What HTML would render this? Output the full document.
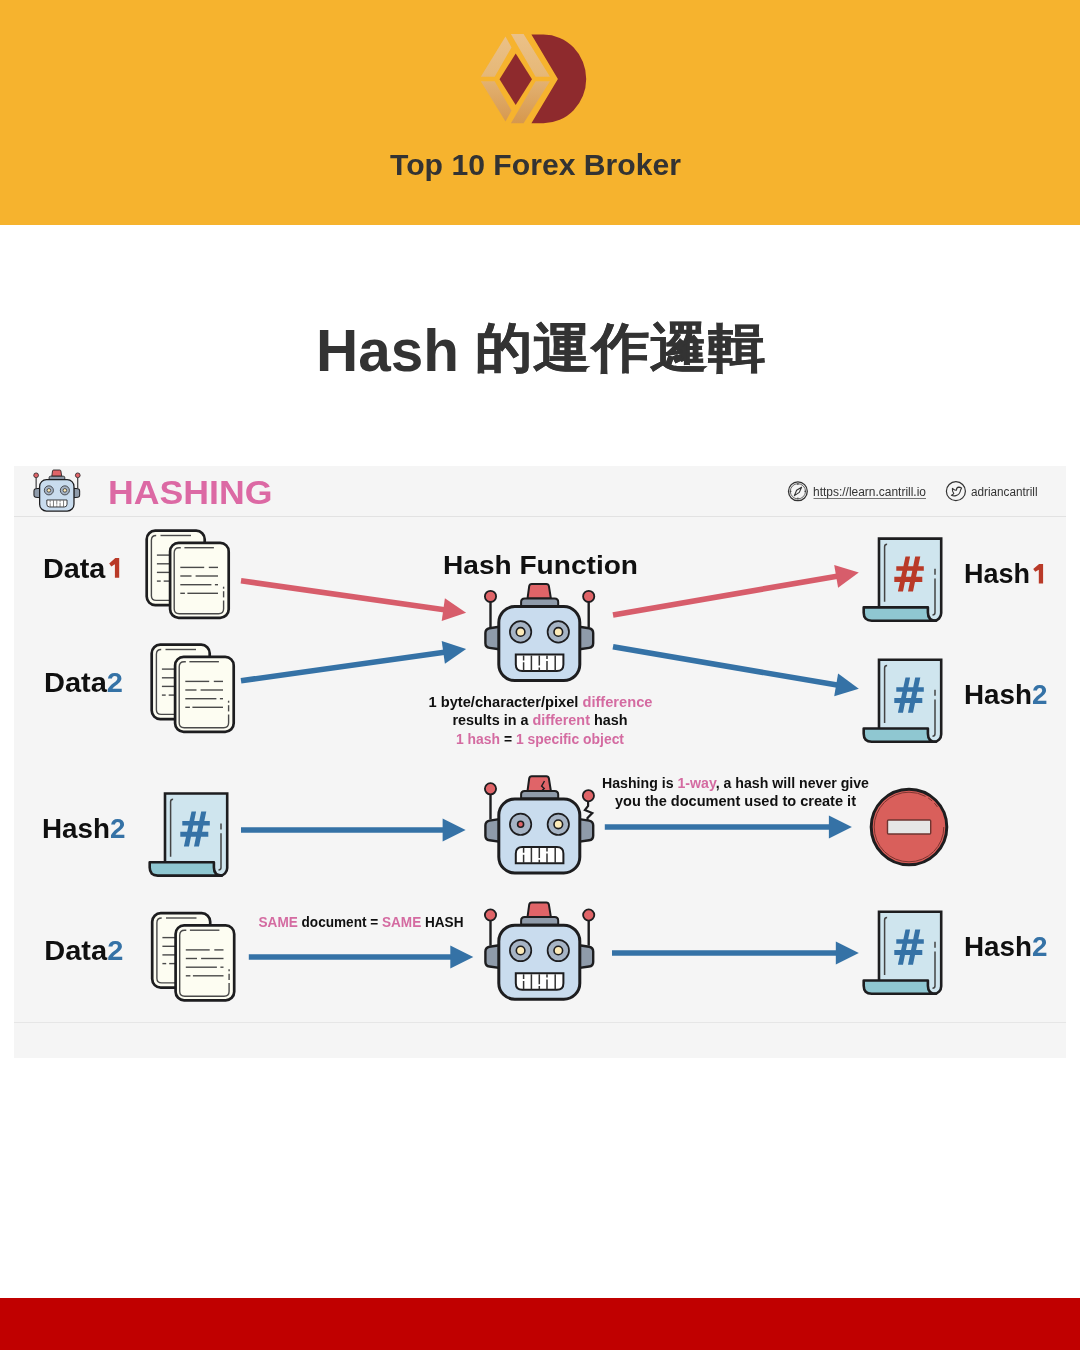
<!DOCTYPE html>
<html><head><meta charset="utf-8">
<style>
html,body{margin:0;padding:0;}
body{width:1080px;height:1350px;position:relative;overflow:hidden;background:#fff;font-family:"Liberation Sans",sans-serif;}
.hdr{position:absolute;left:0;top:0;width:1080px;height:225px;background:#F6B32E;}
.foot{position:absolute;left:0;top:1298px;width:1080px;height:52px;background:#C00000;}
.panel{position:absolute;left:14px;top:466px;width:1052px;height:592px;background:#F5F5F5;}
.sep1{position:absolute;left:14px;top:516px;width:1052px;height:1px;background:#E2E2E2;}
.sep2{position:absolute;left:14px;top:1022px;width:1052px;height:1px;background:#E6E6E6;}
svg{position:absolute;left:0;top:0;will-change:transform;}
svg text{font-family:"Liberation Sans",sans-serif;}
</style></head><body>
<div class="hdr"></div><div class="panel"></div><div class="sep1"></div><div class="sep2"></div><div class="foot"></div>
<svg width="1080" height="1350" viewBox="0 0 1080 1350">
<g>
<defs><linearGradient id="lg" gradientUnits="userSpaceOnUse" x1="0" y1="34" x2="0" y2="123"><stop offset="0" stop-color="#EBC188"/><stop offset="0.45" stop-color="#E6B878"/><stop offset="0.55" stop-color="#E2B070"/><stop offset="1" stop-color="#D6984E"/></linearGradient></defs>
<path d="M531.4,34.6 H543.4 A42.8,44.3 0 0 1 543.4,123.2 H531.4 L557.9,78.9 Z" fill="#8E2A2D"/>
<polygon points="515.7,53.6 532,79.2 515.7,105 499.5,79.2" fill="#8E2A2D"/>
<polygon points="505.5,36.5 511.5,47.5 494.7,76.8 480.8,76.8" fill="url(#lg)"/>
<polygon points="510.9,34 523.6,34 550,76.8 535.6,76.8" fill="url(#lg)"/>
<polygon points="480.8,81.3 494.7,81.3 511.5,110.5 505.5,121.5" fill="url(#lg)"/>
<polygon points="535.6,81.3 550,81.3 523.6,123.2 510.9,123.2" fill="url(#lg)"/>
</g>
<text x="390" y="175" font-size="30" font-weight="bold" fill="#333333" text-anchor="start" textLength="291" lengthAdjust="spacingAndGlyphs" >Top 10 Forex Broker</text>
<text x="316" y="370.8" font-size="60" font-weight="bold" fill="#333333" text-anchor="start" textLength="143" lengthAdjust="spacingAndGlyphs" >Hash</text>
<text transform="translate(475.2,365.9) scale(0.986,0.91)" x="0" y="0" font-size="58.5" font-weight="bold" fill="#333333" stroke="#333333" stroke-width="0.5">的運作邏輯</text>
<g transform="translate(39,479) scale(0.424)">
<line x1="-6.8" y1="-3" x2="-6.8" y2="22" stroke="#1d1d1f" stroke-width="2.4"/>
<line x1="91.4" y1="-3" x2="91.4" y2="22" stroke="#1d1d1f" stroke-width="2.4"/>
<circle cx="-6.8" cy="-8.7" r="5.6" fill="#E06468" stroke="#1d1d1f" stroke-width="1.8"/>
<circle cx="91.4" cy="-8.7" r="5.6" fill="#E06468" stroke="#1d1d1f" stroke-width="1.8"/>
<path d="M2,21.6 L-7.8,23.1 Q-11.9,23.8 -11.9,27.8 V38.2 Q-11.9,42.2 -7.8,42.8 L2,44.2 Z" fill="#8F9BAA" stroke="#1d1d1f" stroke-width="2.4"/>
<path d="M82,21.6 L91.8,23.1 Q95.9,23.8 95.9,27.8 V38.2 Q95.9,42.2 91.8,42.8 L82,44.2 Z" fill="#8F9BAA" stroke="#1d1d1f" stroke-width="2.4"/>
<path d="M30.2,-6.5 L31.9,-19 Q32.3,-21.2 34.5,-21.2 H49 Q51.2,-21.2 51.6,-19 L53.6,-6.5 Z" fill="#E06468" stroke="#1d1d1f" stroke-width="2"/>
<path d="M23.8,1 V-3 Q23.8,-6.6 27.4,-6.6 H57.3 Q60.9,-6.6 60.9,-3 V1 Z" fill="#8F9BAA" stroke="#1d1d1f" stroke-width="2"/>
<rect x="1.5" y="1.5" width="81" height="74" rx="16" fill="#C9DCEE" stroke="#1d1d1f" stroke-width="3"/>
<circle cx="23.3" cy="26.8" r="10.7" fill="#A6B4C5" stroke="#1d1d1f" stroke-width="1.7"/>
<circle cx="61.0" cy="26.8" r="10.7" fill="#A6B4C5" stroke="#1d1d1f" stroke-width="1.7"/>
<circle cx="23.3" cy="26.8" r="4.3" fill="#FCEAB8" stroke="#1d1d1f" stroke-width="1.6"/>
<circle cx="61.0" cy="26.8" r="4.3" fill="#FCEAB8" stroke="#1d1d1f" stroke-width="1.6"/>
<path d="M18.5,49.5 H66.1 V59.5 Q66.1,66 59.6,66 H25 Q18.5,66 18.5,59.5 Z" fill="#fff" stroke="#1d1d1f" stroke-width="2"/>
<path d="M26.3,50.5 V55.3 M26.3,57.2 V65.5 M34.1,50.5 V65.5 M42,50.5 V60.5 M42,62.3 V65.5 M49.7,50.5 V53.9 M49.7,55.9 V65.5 M57.9,50.5 V65.5" stroke="#333" stroke-width="1.5"/>
</g>
<text x="108" y="504.3" font-size="34" font-weight="bold" fill="#DC69A4" text-anchor="start" textLength="164.5" lengthAdjust="spacingAndGlyphs" >HASHING</text>
<circle cx="797.9" cy="491.3" r="9.4" fill="none" stroke="#333" stroke-width="1.3"/><circle cx="797.9" cy="491.3" r="7.6" fill="none" stroke="#444" stroke-width="0.8"/><path d="M797.9,483.2 V485 M797.9,497.6 V499.4 M789.8,491.3 H791.4 M804.4,491.3 H806" stroke="#333" stroke-width="1"/><path d="M801.6,487.2 L799.3,492.4 L794.4,495.6 L796.6,490.3 Z" fill="none" stroke="#333" stroke-width="1.1" stroke-linejoin="round"/>
<text x="813" y="496.3" font-size="12" font-weight="normal" fill="#333" text-anchor="start" textLength="113" lengthAdjust="spacingAndGlyphs" >https://learn.cantrill.io</text>
<line x1="813.5" y1="498.5" x2="926" y2="498.5" stroke="#666" stroke-width="0.9"/>
<circle cx="955.9" cy="491.2" r="9.5" fill="none" stroke="#333" stroke-width="1.2"/><path d="M952.4,488.4 Q954.6,490.6 956.4,490.2 Q956.4,487.1 958.8,487.1 Q960,487.2 961.6,488.1 L960.5,490.2 Q960,494.6 955.9,495.6 Q953.4,496.2 951.4,495.2 Q953.3,494.6 953.8,493.6 Q952,491.5 952.4,488.4 Z" fill="none" stroke="#333" stroke-width="1.1" stroke-linejoin="round"/>
<text x="971" y="496.3" font-size="12" font-weight="normal" fill="#333" text-anchor="start" textLength="66.5" lengthAdjust="spacingAndGlyphs" >adriancantrill</text>
<text x="42.9" y="577.8" font-size="27" font-weight="bold" fill="#101010" text-anchor="start" textLength="62.5" lengthAdjust="spacingAndGlyphs" >Data</text>
<polygon points="115.3,558.1 119.2,558.1 119.2,577.8 114.9,577.8 114.9,564.3 111.3,566.6 109.2,563.4" fill="#B93A28"/>
<text x="44" y="691.6" font-size="27" font-weight="bold" fill="#101010" text-anchor="start" textLength="79" lengthAdjust="spacingAndGlyphs" >Data<tspan fill="#3572A6">2</tspan></text>
<text x="42" y="837.8" font-size="27" font-weight="bold" fill="#101010" text-anchor="start" textLength="83.5" lengthAdjust="spacingAndGlyphs" >Hash<tspan fill="#3572A6">2</tspan></text>
<text x="44.3" y="960.3" font-size="27" font-weight="bold" fill="#101010" text-anchor="start" textLength="79" lengthAdjust="spacingAndGlyphs" >Data<tspan fill="#3572A6">2</tspan></text>
<text x="964" y="583.4" font-size="27" font-weight="bold" fill="#101010" text-anchor="start" textLength="66" lengthAdjust="spacingAndGlyphs" >Hash</text>
<polygon points="1039.1,564 1043.1,564 1043.1,583.4 1038.8,583.4 1038.8,569.7 1035.3,571.8 1033.2,568.9" fill="#B93A28"/>
<text x="964" y="704.1" font-size="27" font-weight="bold" fill="#101010" text-anchor="start" textLength="83.5" lengthAdjust="spacingAndGlyphs" >Hash<tspan fill="#3572A6">2</tspan></text>
<text x="964" y="956.1" font-size="27" font-weight="bold" fill="#101010" text-anchor="start" textLength="83.5" lengthAdjust="spacingAndGlyphs" >Hash<tspan fill="#3572A6">2</tspan></text>
<text x="443" y="573.6" font-size="26" font-weight="bold" fill="#101010" text-anchor="start" textLength="195" lengthAdjust="spacingAndGlyphs" >Hash Function</text>
<text x="428.5" y="707.3" font-size="14" font-weight="bold" fill="#101010" text-anchor="start" textLength="224" lengthAdjust="spacingAndGlyphs" >1 byte/character/pixel <tspan fill="#D46BA1">difference</tspan></text>
<text x="452.5" y="725.1" font-size="14" font-weight="bold" fill="#101010" text-anchor="start" textLength="175" lengthAdjust="spacingAndGlyphs" >results in a <tspan fill="#D46BA1">different</tspan> hash</text>
<text x="456" y="743.8" font-size="14" font-weight="bold" fill="#101010" text-anchor="start" textLength="168" lengthAdjust="spacingAndGlyphs" ><tspan fill="#D46BA1">1 hash</tspan> = <tspan fill="#D46BA1">1 specific object</tspan></text>
<text x="602" y="788.1" font-size="14" font-weight="bold" fill="#101010" text-anchor="start" textLength="267" lengthAdjust="spacingAndGlyphs" >Hashing is <tspan fill="#D46BA1">1-way</tspan>, a hash will never give</text>
<text x="615" y="806.3" font-size="14" font-weight="bold" fill="#101010" text-anchor="start" textLength="241" lengthAdjust="spacingAndGlyphs" >you the document used to create it</text>
<text x="258.5" y="927.4" font-size="14" font-weight="bold" fill="#101010" text-anchor="start" textLength="205" lengthAdjust="spacingAndGlyphs" ><tspan fill="#D46BA1">SAME</tspan> document = <tspan fill="#D46BA1">SAME</tspan> HASH</text>
<g transform="translate(145.2,529.2)">
<rect x="1.5" y="1.5" width="58" height="74.4" rx="8.5" fill="#FDFDF2" stroke="#1d1d1f" stroke-width="2.7"/>
<path d="M11,6.3 Q6.2,6.3 6.2,11 V66.5 Q6.2,71.2 11,71.2 H25" fill="none" stroke="#4a4a4a" stroke-width="1.4"/>
<line x1="15.3" y1="6.3" x2="45.8" y2="6.3" stroke="#4a4a4a" stroke-width="1.4"/>
<line x1="11.7" y1="25.9" x2="25" y2="25.9" stroke="#4a4a4a" stroke-width="1.4"/>
<line x1="11.7" y1="34.6" x2="25" y2="34.6" stroke="#4a4a4a" stroke-width="1.4"/>
<line x1="11.7" y1="43.2" x2="25" y2="43.2" stroke="#4a4a4a" stroke-width="1.4"/>
<line x1="11.7" y1="51.9" x2="15.5" y2="51.9" stroke="#4a4a4a" stroke-width="1.4"/>
<line x1="18.5" y1="51.9" x2="25" y2="51.9" stroke="#4a4a4a" stroke-width="1.4"/>
<rect x="24.9" y="13.7" width="58.6" height="74.9" rx="8.5" fill="#FDFDF2" stroke="#1d1d1f" stroke-width="2.7"/>
<path d="M35.6,18.5 H34 Q29,18.5 29,23.5 V79.5 Q29,84.5 34,84.5 H73.4 Q78.4,84.5 78.4,79.5 V71.2" fill="none" stroke="#4a4a4a" stroke-width="1.4"/>
<line x1="78.4" y1="57.5" x2="78.4" y2="59.5" stroke="#4a4a4a" stroke-width="1.4"/>
<line x1="78.4" y1="62" x2="78.4" y2="68.2" stroke="#4a4a4a" stroke-width="1.4"/>
<line x1="39.2" y1="18.5" x2="68.7" y2="18.5" stroke="#4a4a4a" stroke-width="1.4"/>
<line x1="35.1" y1="38.2" x2="59" y2="38.2" stroke="#4a4a4a" stroke-width="1.4"/>
<line x1="63.6" y1="38.2" x2="72.8" y2="38.2" stroke="#4a4a4a" stroke-width="1.4"/>
<line x1="35.1" y1="46.8" x2="46.3" y2="46.8" stroke="#4a4a4a" stroke-width="1.4"/>
<line x1="50.4" y1="46.8" x2="72.8" y2="46.8" stroke="#4a4a4a" stroke-width="1.4"/>
<line x1="35.1" y1="55.5" x2="66.2" y2="55.5" stroke="#4a4a4a" stroke-width="1.4"/>
<line x1="69.7" y1="55.5" x2="72.8" y2="55.5" stroke="#4a4a4a" stroke-width="1.4"/>
<line x1="35.1" y1="64.1" x2="39.7" y2="64.1" stroke="#4a4a4a" stroke-width="1.4"/>
<line x1="42.2" y1="64.1" x2="72.8" y2="64.1" stroke="#4a4a4a" stroke-width="1.4"/>
</g>
<g transform="translate(150.2,643.2)">
<rect x="1.5" y="1.5" width="58" height="74.4" rx="8.5" fill="#FDFDF2" stroke="#1d1d1f" stroke-width="2.7"/>
<path d="M11,6.3 Q6.2,6.3 6.2,11 V66.5 Q6.2,71.2 11,71.2 H25" fill="none" stroke="#4a4a4a" stroke-width="1.4"/>
<line x1="15.3" y1="6.3" x2="45.8" y2="6.3" stroke="#4a4a4a" stroke-width="1.4"/>
<line x1="11.7" y1="25.9" x2="25" y2="25.9" stroke="#4a4a4a" stroke-width="1.4"/>
<line x1="11.7" y1="34.6" x2="25" y2="34.6" stroke="#4a4a4a" stroke-width="1.4"/>
<line x1="11.7" y1="43.2" x2="25" y2="43.2" stroke="#4a4a4a" stroke-width="1.4"/>
<line x1="11.7" y1="51.9" x2="15.5" y2="51.9" stroke="#4a4a4a" stroke-width="1.4"/>
<line x1="18.5" y1="51.9" x2="25" y2="51.9" stroke="#4a4a4a" stroke-width="1.4"/>
<rect x="24.9" y="13.7" width="58.6" height="74.9" rx="8.5" fill="#FDFDF2" stroke="#1d1d1f" stroke-width="2.7"/>
<path d="M35.6,18.5 H34 Q29,18.5 29,23.5 V79.5 Q29,84.5 34,84.5 H73.4 Q78.4,84.5 78.4,79.5 V71.2" fill="none" stroke="#4a4a4a" stroke-width="1.4"/>
<line x1="78.4" y1="57.5" x2="78.4" y2="59.5" stroke="#4a4a4a" stroke-width="1.4"/>
<line x1="78.4" y1="62" x2="78.4" y2="68.2" stroke="#4a4a4a" stroke-width="1.4"/>
<line x1="39.2" y1="18.5" x2="68.7" y2="18.5" stroke="#4a4a4a" stroke-width="1.4"/>
<line x1="35.1" y1="38.2" x2="59" y2="38.2" stroke="#4a4a4a" stroke-width="1.4"/>
<line x1="63.6" y1="38.2" x2="72.8" y2="38.2" stroke="#4a4a4a" stroke-width="1.4"/>
<line x1="35.1" y1="46.8" x2="46.3" y2="46.8" stroke="#4a4a4a" stroke-width="1.4"/>
<line x1="50.4" y1="46.8" x2="72.8" y2="46.8" stroke="#4a4a4a" stroke-width="1.4"/>
<line x1="35.1" y1="55.5" x2="66.2" y2="55.5" stroke="#4a4a4a" stroke-width="1.4"/>
<line x1="69.7" y1="55.5" x2="72.8" y2="55.5" stroke="#4a4a4a" stroke-width="1.4"/>
<line x1="35.1" y1="64.1" x2="39.7" y2="64.1" stroke="#4a4a4a" stroke-width="1.4"/>
<line x1="42.2" y1="64.1" x2="72.8" y2="64.1" stroke="#4a4a4a" stroke-width="1.4"/>
</g>
<g transform="translate(150.7,911.7)">
<rect x="1.5" y="1.5" width="58" height="74.4" rx="8.5" fill="#FDFDF2" stroke="#1d1d1f" stroke-width="2.7"/>
<path d="M11,6.3 Q6.2,6.3 6.2,11 V66.5 Q6.2,71.2 11,71.2 H25" fill="none" stroke="#4a4a4a" stroke-width="1.4"/>
<line x1="15.3" y1="6.3" x2="45.8" y2="6.3" stroke="#4a4a4a" stroke-width="1.4"/>
<line x1="11.7" y1="25.9" x2="25" y2="25.9" stroke="#4a4a4a" stroke-width="1.4"/>
<line x1="11.7" y1="34.6" x2="25" y2="34.6" stroke="#4a4a4a" stroke-width="1.4"/>
<line x1="11.7" y1="43.2" x2="25" y2="43.2" stroke="#4a4a4a" stroke-width="1.4"/>
<line x1="11.7" y1="51.9" x2="15.5" y2="51.9" stroke="#4a4a4a" stroke-width="1.4"/>
<line x1="18.5" y1="51.9" x2="25" y2="51.9" stroke="#4a4a4a" stroke-width="1.4"/>
<rect x="24.9" y="13.7" width="58.6" height="74.9" rx="8.5" fill="#FDFDF2" stroke="#1d1d1f" stroke-width="2.7"/>
<path d="M35.6,18.5 H34 Q29,18.5 29,23.5 V79.5 Q29,84.5 34,84.5 H73.4 Q78.4,84.5 78.4,79.5 V71.2" fill="none" stroke="#4a4a4a" stroke-width="1.4"/>
<line x1="78.4" y1="57.5" x2="78.4" y2="59.5" stroke="#4a4a4a" stroke-width="1.4"/>
<line x1="78.4" y1="62" x2="78.4" y2="68.2" stroke="#4a4a4a" stroke-width="1.4"/>
<line x1="39.2" y1="18.5" x2="68.7" y2="18.5" stroke="#4a4a4a" stroke-width="1.4"/>
<line x1="35.1" y1="38.2" x2="59" y2="38.2" stroke="#4a4a4a" stroke-width="1.4"/>
<line x1="63.6" y1="38.2" x2="72.8" y2="38.2" stroke="#4a4a4a" stroke-width="1.4"/>
<line x1="35.1" y1="46.8" x2="46.3" y2="46.8" stroke="#4a4a4a" stroke-width="1.4"/>
<line x1="50.4" y1="46.8" x2="72.8" y2="46.8" stroke="#4a4a4a" stroke-width="1.4"/>
<line x1="35.1" y1="55.5" x2="66.2" y2="55.5" stroke="#4a4a4a" stroke-width="1.4"/>
<line x1="69.7" y1="55.5" x2="72.8" y2="55.5" stroke="#4a4a4a" stroke-width="1.4"/>
<line x1="35.1" y1="64.1" x2="39.7" y2="64.1" stroke="#4a4a4a" stroke-width="1.4"/>
<line x1="42.2" y1="64.1" x2="72.8" y2="64.1" stroke="#4a4a4a" stroke-width="1.4"/>
</g>
<g transform="translate(877.5,537.1)">
<path d="M1.5,1.5 H63.7 V76 A7.5,7.5 0 0 1 56.2,83.6 H1.5 Z" fill="#CFE5EE" stroke="#1d1d1f" stroke-width="2.6"/>
<path d="M9.6,7.2 Q7.1,7.2 7.1,9.7 V64.7" fill="none" stroke="#444" stroke-width="1.5"/>
<path d="M57.5,31.6 V37.6 M57.5,41.3 V75.5 Q57.5,78 55,78" fill="none" stroke="#444" stroke-width="1.5"/>
<path d="M-13.8,70.3 H50.4 V75.5 Q50.4,83.6 58.5,83.6 H-5.8 Q-13.8,83.6 -13.8,75.6 Z" fill="#8FC7D1" stroke="#1d1d1f" stroke-width="2.6" stroke-linejoin="round"/>
<path d="M28,19.4 H32.6 L25.5,54.5 H20.4 Z M37.7,19.4 H42.8 L35.5,54.5 H30.5 Z M18.8,29.1 H46.3 V33.6 H18.8 Z M16.8,39.7 H44.8 V44.8 H16.8 Z" fill="#B93A28"/>
</g>
<g transform="translate(877.5,658.2)">
<path d="M1.5,1.5 H63.7 V76 A7.5,7.5 0 0 1 56.2,83.6 H1.5 Z" fill="#CFE5EE" stroke="#1d1d1f" stroke-width="2.6"/>
<path d="M9.6,7.2 Q7.1,7.2 7.1,9.7 V64.7" fill="none" stroke="#444" stroke-width="1.5"/>
<path d="M57.5,31.6 V37.6 M57.5,41.3 V75.5 Q57.5,78 55,78" fill="none" stroke="#444" stroke-width="1.5"/>
<path d="M-13.8,70.3 H50.4 V75.5 Q50.4,83.6 58.5,83.6 H-5.8 Q-13.8,83.6 -13.8,75.6 Z" fill="#8FC7D1" stroke="#1d1d1f" stroke-width="2.6" stroke-linejoin="round"/>
<path d="M28,19.4 H32.6 L25.5,54.5 H20.4 Z M37.7,19.4 H42.8 L35.5,54.5 H30.5 Z M18.8,29.1 H46.3 V33.6 H18.8 Z M16.8,39.7 H44.8 V44.8 H16.8 Z" fill="#3572A6"/>
</g>
<g transform="translate(163.5,792)">
<path d="M1.5,1.5 H63.7 V76 A7.5,7.5 0 0 1 56.2,83.6 H1.5 Z" fill="#CFE5EE" stroke="#1d1d1f" stroke-width="2.6"/>
<path d="M9.6,7.2 Q7.1,7.2 7.1,9.7 V64.7" fill="none" stroke="#444" stroke-width="1.5"/>
<path d="M57.5,31.6 V37.6 M57.5,41.3 V75.5 Q57.5,78 55,78" fill="none" stroke="#444" stroke-width="1.5"/>
<path d="M-13.8,70.3 H50.4 V75.5 Q50.4,83.6 58.5,83.6 H-5.8 Q-13.8,83.6 -13.8,75.6 Z" fill="#8FC7D1" stroke="#1d1d1f" stroke-width="2.6" stroke-linejoin="round"/>
<path d="M28,19.4 H32.6 L25.5,54.5 H20.4 Z M37.7,19.4 H42.8 L35.5,54.5 H30.5 Z M18.8,29.1 H46.3 V33.6 H18.8 Z M16.8,39.7 H44.8 V44.8 H16.8 Z" fill="#3572A6"/>
</g>
<g transform="translate(877.5,910.2)">
<path d="M1.5,1.5 H63.7 V76 A7.5,7.5 0 0 1 56.2,83.6 H1.5 Z" fill="#CFE5EE" stroke="#1d1d1f" stroke-width="2.6"/>
<path d="M9.6,7.2 Q7.1,7.2 7.1,9.7 V64.7" fill="none" stroke="#444" stroke-width="1.5"/>
<path d="M57.5,31.6 V37.6 M57.5,41.3 V75.5 Q57.5,78 55,78" fill="none" stroke="#444" stroke-width="1.5"/>
<path d="M-13.8,70.3 H50.4 V75.5 Q50.4,83.6 58.5,83.6 H-5.8 Q-13.8,83.6 -13.8,75.6 Z" fill="#8FC7D1" stroke="#1d1d1f" stroke-width="2.6" stroke-linejoin="round"/>
<path d="M28,19.4 H32.6 L25.5,54.5 H20.4 Z M37.7,19.4 H42.8 L35.5,54.5 H30.5 Z M18.8,29.1 H46.3 V33.6 H18.8 Z M16.8,39.7 H44.8 V44.8 H16.8 Z" fill="#3572A6"/>
</g>
<g transform="translate(497.3,605.1) scale(1.0)">
<line x1="-6.8" y1="-3" x2="-6.8" y2="22" stroke="#1d1d1f" stroke-width="2.4"/>
<line x1="91.4" y1="-3" x2="91.4" y2="22" stroke="#1d1d1f" stroke-width="2.4"/>
<circle cx="-6.8" cy="-8.7" r="5.6" fill="#E06468" stroke="#1d1d1f" stroke-width="1.8"/>
<circle cx="91.4" cy="-8.7" r="5.6" fill="#E06468" stroke="#1d1d1f" stroke-width="1.8"/>
<path d="M2,21.6 L-7.8,23.1 Q-11.9,23.8 -11.9,27.8 V38.2 Q-11.9,42.2 -7.8,42.8 L2,44.2 Z" fill="#8F9BAA" stroke="#1d1d1f" stroke-width="2.4"/>
<path d="M82,21.6 L91.8,23.1 Q95.9,23.8 95.9,27.8 V38.2 Q95.9,42.2 91.8,42.8 L82,44.2 Z" fill="#8F9BAA" stroke="#1d1d1f" stroke-width="2.4"/>
<path d="M30.2,-6.5 L31.9,-19 Q32.3,-21.2 34.5,-21.2 H49 Q51.2,-21.2 51.6,-19 L53.6,-6.5 Z" fill="#E06468" stroke="#1d1d1f" stroke-width="2"/>
<path d="M23.8,1 V-3 Q23.8,-6.6 27.4,-6.6 H57.3 Q60.9,-6.6 60.9,-3 V1 Z" fill="#8F9BAA" stroke="#1d1d1f" stroke-width="2"/>
<rect x="1.5" y="1.5" width="81" height="74" rx="16" fill="#C9DCEE" stroke="#1d1d1f" stroke-width="3"/>
<circle cx="23.3" cy="26.8" r="10.7" fill="#A6B4C5" stroke="#1d1d1f" stroke-width="1.7"/>
<circle cx="61.0" cy="26.8" r="10.7" fill="#A6B4C5" stroke="#1d1d1f" stroke-width="1.7"/>
<circle cx="23.3" cy="26.8" r="4.3" fill="#FCEAB8" stroke="#1d1d1f" stroke-width="1.6"/>
<circle cx="61.0" cy="26.8" r="4.3" fill="#FCEAB8" stroke="#1d1d1f" stroke-width="1.6"/>
<path d="M18.5,49.5 H66.1 V59.5 Q66.1,66 59.6,66 H25 Q18.5,66 18.5,59.5 Z" fill="#fff" stroke="#1d1d1f" stroke-width="2"/>
<path d="M26.3,50.5 V55.3 M26.3,57.2 V65.5 M34.1,50.5 V65.5 M42,50.5 V60.5 M42,62.3 V65.5 M49.7,50.5 V53.9 M49.7,55.9 V65.5 M57.9,50.5 V65.5" stroke="#333" stroke-width="1.5"/>
</g>
<g transform="translate(497.3,797.5) scale(1.0)">
<line x1="-6.8" y1="-3" x2="-6.8" y2="22" stroke="#1d1d1f" stroke-width="2.4"/>
<circle cx="-6.8" cy="-8.7" r="5.6" fill="#E06468" stroke="#1d1d1f" stroke-width="1.8"/>
<polyline points="90.8,3 90.8,8.4 87.6,12.6 95,15.6 90.2,20.5 90.2,23" fill="none" stroke="#1d1d1f" stroke-width="2.2" stroke-linejoin="miter"/>
<circle cx="91.1" cy="-1.8" r="5.6" fill="#E06468" stroke="#1d1d1f" stroke-width="1.8"/>
<path d="M2,21.6 L-7.8,23.1 Q-11.9,23.8 -11.9,27.8 V38.2 Q-11.9,42.2 -7.8,42.8 L2,44.2 Z" fill="#8F9BAA" stroke="#1d1d1f" stroke-width="2.4"/>
<path d="M82,21.6 L91.8,23.1 Q95.9,23.8 95.9,27.8 V38.2 Q95.9,42.2 91.8,42.8 L82,44.2 Z" fill="#8F9BAA" stroke="#1d1d1f" stroke-width="2.4"/>
<path d="M30.2,-6.5 L31.9,-19 Q32.3,-21.2 34.5,-21.2 H49 Q51.2,-21.2 51.6,-19 L53.6,-6.5 Z" fill="#E06468" stroke="#1d1d1f" stroke-width="2"/>
<polyline points="47.2,-16.5 44.3,-11.4 46.9,-9 44.3,-6.6" fill="none" stroke="#1d1d1f" stroke-width="1.4"/>
<path d="M23.8,1 V-3 Q23.8,-6.6 27.4,-6.6 H57.3 Q60.9,-6.6 60.9,-3 V1 Z" fill="#8F9BAA" stroke="#1d1d1f" stroke-width="2"/>
<rect x="1.5" y="1.5" width="81" height="74" rx="16" fill="#C9DCEE" stroke="#1d1d1f" stroke-width="3"/>
<circle cx="23.3" cy="26.8" r="10.7" fill="#A6B4C5" stroke="#1d1d1f" stroke-width="1.7"/>
<circle cx="61.0" cy="26.8" r="10.7" fill="#A6B4C5" stroke="#1d1d1f" stroke-width="1.7"/>
<circle cx="23.3" cy="26.8" r="3.0" fill="#E06468" stroke="#1d1d1f" stroke-width="1.6"/>
<circle cx="61.0" cy="26.8" r="4.3" fill="#FCEAB8" stroke="#1d1d1f" stroke-width="1.6"/>
<path d="M18.5,65.7 V56 Q18.5,49.5 25,49.5 H59.6 Q66.1,49.5 66.1,56 V65.7 Z" fill="#fff" stroke="#1d1d1f" stroke-width="2"/>
<path d="M26.3,50.5 V55.3 M26.3,57.2 V65.5 M34.1,50.5 V65.5 M42,50.5 V60.5 M42,62.3 V65.5 M49.7,50.5 V53.9 M49.7,55.9 V65.5 M57.9,50.5 V65.5" stroke="#333" stroke-width="1.5"/>
</g>
<g transform="translate(497.3,923.7) scale(1.0)">
<line x1="-6.8" y1="-3" x2="-6.8" y2="22" stroke="#1d1d1f" stroke-width="2.4"/>
<line x1="91.4" y1="-3" x2="91.4" y2="22" stroke="#1d1d1f" stroke-width="2.4"/>
<circle cx="-6.8" cy="-8.7" r="5.6" fill="#E06468" stroke="#1d1d1f" stroke-width="1.8"/>
<circle cx="91.4" cy="-8.7" r="5.6" fill="#E06468" stroke="#1d1d1f" stroke-width="1.8"/>
<path d="M2,21.6 L-7.8,23.1 Q-11.9,23.8 -11.9,27.8 V38.2 Q-11.9,42.2 -7.8,42.8 L2,44.2 Z" fill="#8F9BAA" stroke="#1d1d1f" stroke-width="2.4"/>
<path d="M82,21.6 L91.8,23.1 Q95.9,23.8 95.9,27.8 V38.2 Q95.9,42.2 91.8,42.8 L82,44.2 Z" fill="#8F9BAA" stroke="#1d1d1f" stroke-width="2.4"/>
<path d="M30.2,-6.5 L31.9,-19 Q32.3,-21.2 34.5,-21.2 H49 Q51.2,-21.2 51.6,-19 L53.6,-6.5 Z" fill="#E06468" stroke="#1d1d1f" stroke-width="2"/>
<path d="M23.8,1 V-3 Q23.8,-6.6 27.4,-6.6 H57.3 Q60.9,-6.6 60.9,-3 V1 Z" fill="#8F9BAA" stroke="#1d1d1f" stroke-width="2"/>
<rect x="1.5" y="1.5" width="81" height="74" rx="16" fill="#C9DCEE" stroke="#1d1d1f" stroke-width="3"/>
<circle cx="23.3" cy="26.8" r="10.7" fill="#A6B4C5" stroke="#1d1d1f" stroke-width="1.7"/>
<circle cx="61.0" cy="26.8" r="10.7" fill="#A6B4C5" stroke="#1d1d1f" stroke-width="1.7"/>
<circle cx="23.3" cy="26.8" r="4.3" fill="#FCEAB8" stroke="#1d1d1f" stroke-width="1.6"/>
<circle cx="61.0" cy="26.8" r="4.3" fill="#FCEAB8" stroke="#1d1d1f" stroke-width="1.6"/>
<path d="M18.5,49.5 H66.1 V59.5 Q66.1,66 59.6,66 H25 Q18.5,66 18.5,59.5 Z" fill="#fff" stroke="#1d1d1f" stroke-width="2"/>
<path d="M26.3,50.5 V55.3 M26.3,57.2 V65.5 M34.1,50.5 V65.5 M42,50.5 V60.5 M42,62.3 V65.5 M49.7,50.5 V53.9 M49.7,55.9 V65.5 M57.9,50.5 V65.5" stroke="#333" stroke-width="1.5"/>
</g>
<circle cx="909" cy="827" r="37.8" fill="#D95F5B" stroke="#1d1d1f" stroke-width="3"/>
<circle cx="909" cy="827" r="34.8" fill="none" stroke="#7E3530" stroke-width="1" stroke-dasharray="181 3 5 3 5 40"/>
<rect x="887.5" y="820" width="43.2" height="14" fill="#E6E6E6" stroke="#6E3531" stroke-width="1.4" rx="1"/>
<line x1="241.0" y1="580.8" x2="444.3" y2="609.7" stroke="#D75D6B" stroke-width="5.6"/>
<polygon points="466.1,612.8 441.7,620.9 444.9,598.2" fill="#D75D6B"/>
<line x1="241.0" y1="680.8" x2="444.3" y2="652.2" stroke="#3572A6" stroke-width="5.6"/>
<polygon points="466.1,649.1 444.9,663.7 441.7,640.9" fill="#3572A6"/>
<line x1="613.0" y1="615.0" x2="837.1" y2="576.2" stroke="#D75D6B" stroke-width="5.6"/>
<polygon points="858.8,572.5 838.1,587.8 834.2,565.1" fill="#D75D6B"/>
<line x1="613.0" y1="646.8" x2="837.1" y2="685.1" stroke="#3572A6" stroke-width="5.6"/>
<polygon points="858.8,688.8 834.2,696.3 838.1,673.6" fill="#3572A6"/>
<line x1="241.0" y1="830.0" x2="443.6" y2="830.0" stroke="#3572A6" stroke-width="5.6"/>
<polygon points="465.6,830.0 442.6,841.5 442.6,818.5" fill="#3572A6"/>
<line x1="604.8" y1="827.0" x2="829.9" y2="827.0" stroke="#3572A6" stroke-width="5.6"/>
<polygon points="851.9,827.0 828.9,838.5 828.9,815.5" fill="#3572A6"/>
<line x1="248.8" y1="957.0" x2="451.3" y2="957.0" stroke="#3572A6" stroke-width="5.6"/>
<polygon points="473.3,957.0 450.3,968.5 450.3,945.5" fill="#3572A6"/>
<line x1="612.0" y1="953.0" x2="836.8" y2="953.0" stroke="#3572A6" stroke-width="5.6"/>
<polygon points="858.8,953.0 835.8,964.5 835.8,941.5" fill="#3572A6"/>
</svg>
</body></html>
